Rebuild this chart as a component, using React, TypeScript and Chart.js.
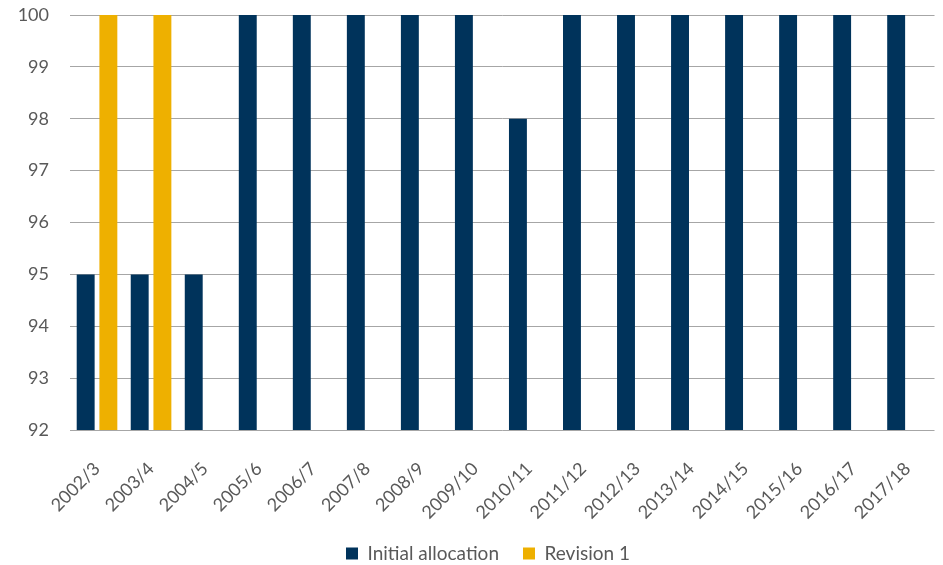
import React, { useEffect, useRef } from "react";
import { Chart, registerables } from "chart.js";

Chart.register(...registerables);

const categories = [
  "2002/3", "2003/4", "2004/5", "2005/6", "2006/7", "2007/8", "2008/9", "2009/10",
  "2010/11", "2011/12", "2012/13", "2013/14", "2014/15", "2015/16", "2016/17", "2017/18",
];
const initialAllocation = [95, 95, 95, 100, 100, 100, 100, 100, 98, 100, 100, 100, 100, 100, 100, 100];
const revision1 = [100, 100, null, null, null, null, null, null, null, null, null, null, null, null, null, null];
const yTicks = { min: 92, max: 100, step: 1 };

const FONT = "Lato, 'Open Sans', sans-serif";
const TEXT = "#595959";

const legendShift = {
  id: "legendShift",
  afterLayout(chart: any) {
    if (chart.legend) chart.legend.left += 32;
  },
};

export default function App() {
  const ref = useRef<HTMLCanvasElement>(null);
  useEffect(() => {
    document.body.style.margin = "0";
    const chart = new Chart(ref.current!, {
      type: "bar",
      data: {
        labels: categories,
        datasets: [
          {
            label: "Initial allocation",
            data: initialAllocation,
            backgroundColor: "#00335B",
            barPercentage: 0.79,
            categoryPercentage: 0.84,
          },
          {
            label: "Revision 1",
            data: revision1,
            backgroundColor: "#EEB000",
            barPercentage: 0.79,
            categoryPercentage: 0.84,
          },
        ],
      },
      plugins: [legendShift],
      options: {
        animation: false,
        responsive: false,
        layout: { padding: { top: 15, left: 8, right: 7, bottom: -8 } },
        plugins: {
          tooltip: { enabled: false },
          legend: {
            position: "bottom",
            labels: {
              boxWidth: 12,
              boxHeight: 12,
              padding: 24,
              color: TEXT,
              font: { family: FONT, size: 19 },
            },
          },
        },
        scales: {
          x: {
            grid: { display: false },
            border: { display: false },
            ticks: {
              color: TEXT,
              padding: 20,
              font: { family: FONT, size: 18 },
              minRotation: 45,
              maxRotation: 45,
              autoSkip: false,
            },
            afterFit: (s: any) => {
              s.height = 90;
            },
          },
          y: {
            min: yTicks.min,
            max: yTicks.max,
            grid: { color: "#a6a6a6", lineWidth: 1, drawTicks: false },
            border: { display: false },
            ticks: {
              stepSize: yTicks.step,
              color: TEXT,
              padding: 21,
              font: { family: FONT, size: 18 },
            },
            afterFit: (s: any) => {
              s.width = 62;
              s.paddingTop = 0;
              s.paddingBottom = 0;
            },
          },
        },
      },
    });
    return () => chart.destroy();
  }, []);
  return (
    <div style={{ width: 943, height: 565 }}>
      <canvas ref={ref} width={943} height={565} />
    </div>
  );
}
